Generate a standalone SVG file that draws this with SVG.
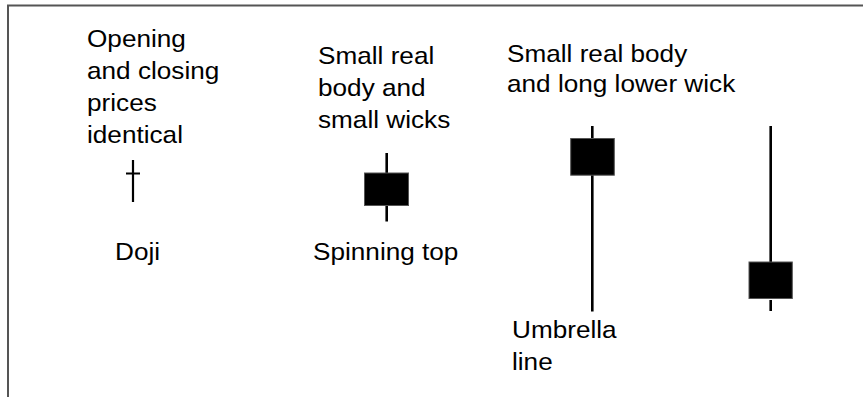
<svg xmlns="http://www.w3.org/2000/svg" width="863" height="397" viewBox="0 0 863 397">
<style>
.t{font-family:"Liberation Sans",Arial,sans-serif;font-size:24px;fill:#000}
.w{stroke:#000;stroke-width:2.6;fill:none}
.b{fill:#000;stroke:#555;stroke-width:1}
.f{stroke:#555;stroke-width:2;fill:none}
</style>
<rect width="863" height="397" fill="#fff"/>
<g id="frame"><path class="f" d="M8,397 V5.5 H863"/></g>
<g id="connectors"></g>
<g id="doji">
<path class="w" style="stroke-width:2.2" d="M133,160 V202 M126,173.5 H140"/>
<text class="t" transform="translate(87,47) scale(1.09,1)">Opening</text>
<text class="t" transform="translate(87,79) scale(1.09,1)">and closing</text>
<text class="t" transform="translate(87,111) scale(1.09,1)">prices</text>
<text class="t" transform="translate(87,143) scale(1.09,1)">identical</text>
<text class="t" transform="translate(115,260) scale(1.09,1)">Doji</text>
</g>
<g id="spinning-top">
<path class="w" d="M386.7,153 V173 M386.7,205.5 V221.5"/>
<rect class="b" x="364.5" y="173" width="44" height="32.5"/>
<text class="t" transform="translate(318,64) scale(1.09,1)">Small real</text>
<text class="t" transform="translate(318,96) scale(1.09,1)">body and</text>
<text class="t" transform="translate(318,128) scale(1.09,1)">small wicks</text>
<text class="t" transform="translate(313,260) scale(1.09,1)">Spinning top</text>
</g>
<g id="umbrella">
<path class="w" d="M592.3,126 V138.5 M592.3,175 V311.5"/>
<rect class="b" x="570.7" y="138.5" width="43.6" height="36.7"/>
<text class="t" transform="translate(507,62) scale(1.09,1)">Small real body</text>
<text class="t" transform="translate(507,92) scale(1.09,1)">and long lower wick</text>
<text class="t" transform="translate(512,338) scale(1.09,1)">Umbrella</text>
<text class="t" transform="translate(512,370) scale(1.09,1)">line</text>
</g>
<g id="hanging">
<path class="w" d="M770.7,126 V262 M770.7,300 V311"/>
<rect class="b" x="749" y="262" width="43.3" height="36.5"/>
</g>
</svg>
